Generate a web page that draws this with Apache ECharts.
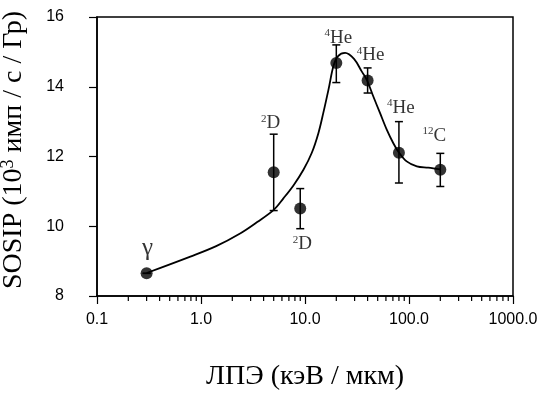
<!DOCTYPE html>
<html>
<head>
<meta charset="utf-8">
<script src="https://cdn.jsdelivr.net/npm/echarts@6/dist/echarts.min.js"></script>
<style>
html,body{margin:0;padding:0;background:#fff;}
#chart{width:545px;height:398px;}
</style>
</head>
<body>
<div id="chart"></div>
<script>
// Data
var xValues = [0.3, 5, 9, 20, 40, 80, 200];
var yValues = [8.65, 11.55, 10.51, 14.68, 14.18, 12.11, 11.62];
var yErrLow = [8.65, 10.45, 9.93, 14.12, 13.82, 11.24, 11.14];
var yErrHigh = [8.65, 12.64, 11.08, 15.2, 14.54, 13.0, 12.09];
var labelSup = ['', '2', '2', '4', '4', '4', '12'];
var labelMain = ['γ', 'D', 'D', 'He', 'He', 'He', 'C'];

var curveX = [0.3, 0.79, 1.4, 2.4, 3.47, 5.0, 6.2, 7.74, 9.66, 11.6, 13.45, 15.0, 16.8, 18.8, 20.8, 24.3, 29.6, 35.1, 39.3, 45.4, 52.6, 61.1, 70.7, 79, 95, 119, 153, 200];
var curveY = [8.66, 9.13, 9.43, 9.80, 10.12, 10.47, 10.80, 11.17, 11.62, 12.10, 12.67, 13.25, 13.91, 14.60, 14.88, 14.97, 14.80, 14.44, 14.2, 13.72, 13.25, 12.77, 12.38, 12.14, 11.86, 11.72, 11.68, 11.63];

var xTickLabels = ['0.1', '1.0', '10.0', '100.0', '1000.0'];
var xMinorTicks = [0.2,0.3,0.4,0.5,0.6,0.7,0.8,0.9, 2,3,4,5,6,7,8,9, 20,30,40,50,60,70,80,90, 200,300,400,500,600,700,800,900];
var yTicks = [8, 10, 12, 14, 16];

// label placement (pixel offsets from the point centre)
var labelOffsets = [[1,-25],[-3,-49],[2,36],[2,-25],[3,-25],[2,-45],[-6,-34]];

var chart = echarts.init(document.getElementById('chart'), null, {renderer:'canvas'});

var pts = xValues.map(function(x,i){
  return {
    value:[x, yValues[i]],
    label:{
      show:true,
      position:'inside',
      offset: labelOffsets[i],
      formatter: (labelSup[i] ? '{s|' + labelSup[i] + '}' : '') + '{' + (i===0 ? 'g' : 'm') + '|' + labelMain[i] + '}'
    }
  };
});
var errData = xValues.map(function(x,i){ return [x, yErrLow[i], yErrHigh[i]]; });
var curveData = curveX.map(function(x,i){ return [x, curveY[i]]; });
var minorData = xMinorTicks.map(function(v){ return [v]; });

var serif = '"Liberation Serif","Times New Roman",serif';
var sans = '"Liberation Sans",Arial,sans-serif';

chart.setOption({
  animation:false,
  backgroundColor:'#fff',
  grid:{left:97, right:32, top:17, bottom:102, containLabel:false, outerBoundsMode:'none',
    show:true, borderColor:'#000', borderWidth:1.5, backgroundColor:'transparent'},
  xAxis:{
    type:'log', logBase:10, min:0.1, max:1000,
    name:'ЛПЭ (кэВ / мкм)', nameLocation:'middle', nameGap:67,
    nameTextStyle:{fontFamily:serif, fontSize:28, color:'#000'},
    axisLine:{show:true, lineStyle:{color:'#000', width:1.5}},
    axisTick:{show:true, inside:false, length:8, lineStyle:{color:'#000', width:1.2}},
    axisLabel:{margin:16, fontFamily:sans, fontSize:16, color:'#000',
      formatter:function(v){ var k = Math.round(Math.log10(v)) + 1; return xTickLabels[k] || ''; }},
    splitLine:{show:false}, minorTick:{show:false}
  },
  yAxis:{
    type:'value', min:8, max:16, interval:2,
    name:'SOSIP (10{s|3} имп / с / Гр)', nameLocation:'middle', nameGap:68, nameRotate:90,
    nameTextStyle:{fontFamily:serif, fontSize:28, color:'#000', lineHeight:30, padding:[0,0,0,13],
      rich:{s:{fontFamily:serif, fontSize:18, color:'#000', verticalAlign:'top', lineHeight:30}}},
    axisLine:{show:true, lineStyle:{color:'#000', width:1.5}},
    axisTick:{show:true, inside:false, length:8, lineStyle:{color:'#000', width:1.2}},
    axisLabel:{margin:33, fontFamily:sans, fontSize:16, color:'#000',
      formatter:function(v){ return yTicks.indexOf(v) >= 0 ? String(v) : ''; }},
    splitLine:{show:false}
  },
  series:[
    {
      type:'custom', name:'minorTicks', data:minorData, clip:false, silent:true,
      encode:{x:0},
      renderItem:function(params, api){
        var p = api.coord([api.value(0), 8]);
        return {type:'line', shape:{x1:p[0], y1:p[1], x2:p[0], y2:p[1]+5}, style:{stroke:'#000', lineWidth:1.2}};
      }
    },
    {
      type:'custom', name:'errors', data:errData, clip:false, silent:true,
      encode:{x:0, y:[1,2]},
      renderItem:function(params, api){
        var x = api.value(0);
        var lo = api.coord([x, api.value(1)]);
        var hi = api.coord([x, api.value(2)]);
        var w = 4;
        var st = {stroke:'#000', lineWidth:1.5};
        return {type:'group', children:[
          {type:'line', shape:{x1:lo[0], y1:lo[1], x2:hi[0], y2:hi[1]}, style:st},
          {type:'line', shape:{x1:lo[0]-w, y1:lo[1], x2:lo[0]+w, y2:lo[1]}, style:st},
          {type:'line', shape:{x1:hi[0]-w, y1:hi[1], x2:hi[0]+w, y2:hi[1]}, style:st}
        ]};
      }
    },
    {
      type:'line', name:'curve', data:curveData, smooth:0.35, showSymbol:false, symbol:'none',
      lineStyle:{color:'#000', width:1.8}, z:3
    },
    {
      type:'scatter', name:'points', data:pts, symbol:'circle', symbolSize:12,
      itemStyle:{color:'#000'}, z:4,
      label:{
        color:'#000',
        rich:{
          s:{fontFamily:serif, fontSize:11, color:'#000', verticalAlign:'top', lineHeight:20},
          m:{fontFamily:serif, fontSize:19, color:'#000', lineHeight:20},
          g:{fontFamily:serif, fontSize:25, color:'#000', lineHeight:26}
        }
      }
    }
  ]
});
</script>
</body>
</html>
